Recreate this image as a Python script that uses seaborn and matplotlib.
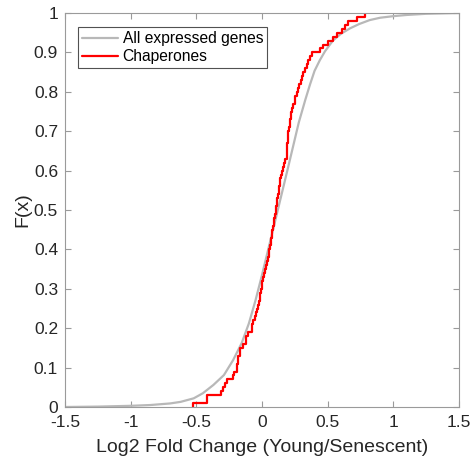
import numpy as np
import pandas as pd
import matplotlib
matplotlib.use("Agg")
import matplotlib.pyplot as plt
import seaborn as sns

all_x = [-1.5, -1.25, -1.0, -0.85, -0.7, -0.62, -0.52, -0.45, -0.37, -0.29, -0.22, -0.155,
         -0.10, -0.05, 0.0, 0.1, 0.2, 0.28, 0.33, 0.365, 0.40, 0.44, 0.48, 0.54, 0.6,
         0.67, 0.74, 0.82, 0.9, 1.0, 1.1, 1.25, 1.5]
all_F = [0.0, 0.001, 0.003, 0.005, 0.009, 0.013, 0.022, 0.035, 0.056, 0.081, 0.119, 0.162,
         0.212, 0.27, 0.335, 0.472, 0.61, 0.722, 0.78, 0.818, 0.853, 0.88, 0.903, 0.93, 0.947,
         0.961, 0.972, 0.982, 0.988, 0.992, 0.995, 0.998, 1.0]

# Chaperones: log2 fold changes read from the steps of the red ECDF
chaperones = [-0.528, -0.416, -0.416, -0.312, -0.30, -0.28, -0.27, -0.223, -0.213, -0.193,
              -0.193, -0.18, -0.18, -0.167, -0.167, -0.147, -0.122, -0.122, -0.104, -0.079,
              -0.079, -0.065, -0.053, -0.045, -0.04, -0.03, -0.022, -0.015, -0.015, -0.008,
              -0.003, -0.003, 0.005, 0.012, 0.02, 0.028, 0.036, 0.044, 0.05, 0.056,
              0.061, 0.066, 0.07, 0.074, 0.079, 0.084, 0.089, 0.094, 0.098, 0.103,
              0.108, 0.112, 0.117, 0.121, 0.126, 0.13, 0.134, 0.138, 0.142, 0.15,
              0.16, 0.168, 0.178, 0.188, 0.19, 0.192, 0.194, 0.196, 0.198, 0.2,
              0.205, 0.21, 0.213, 0.218, 0.222, 0.226, 0.238, 0.251, 0.251, 0.265,
              0.277, 0.285, 0.295, 0.302, 0.315, 0.328, 0.34, 0.352, 0.365, 0.378,
              0.442, 0.467, 0.505, 0.54, 0.569, 0.607, 0.635, 0.657, 0.721, 0.785]

x_ticks = [-1.5, -1, -0.5, 0, 0.5, 1, 1.5]
x_tick_labels = ["-1.5", "-1", "-0.5", "0", "0.5", "1", "1.5"]
y_ticks = [0, 0.1, 0.2, 0.3, 0.4, 0.5, 0.6, 0.7, 0.8, 0.9, 1]
y_tick_labels = ["0", "0.1", "0.2", "0.3", "0.4", "0.5", "0.6", "0.7", "0.8", "0.9", "1"]

sns.set_style("white")
plt.rcParams["font.family"] = ["Liberation Sans", "DejaVu Sans"]
plt.rcParams["axes.unicode_minus"] = False

text_col = "#262626"
frame_col = "#9a9a9a"

fig = plt.figure(figsize=(4.74, 4.66), dpi=100)
ax = fig.add_axes([65 / 474, 59 / 466, 394 / 474, 394 / 466])

all_df = pd.DataFrame({"x": all_x, "F": all_F})
sns.lineplot(data=all_df, x="x", y="F", ax=ax, color="#b8b8b8", linewidth=1.6,
             label="All expressed genes")
sns.ecdfplot(x=chaperones, ax=ax, color="#ff0000", linewidth=1.6, label="Chaperones")

ax.set_xlim(-1.5, 1.5)
ax.set_ylim(0, 1)
ax.set_xticks(x_ticks)
ax.set_xticklabels(x_tick_labels)
ax.set_yticks(y_ticks)
ax.set_yticklabels(y_tick_labels)
ax.set_xlabel("Log2 Fold Change (Young/Senescent)", fontsize=14, color=text_col, labelpad=6)
ax.set_ylabel("F(x)", fontsize=14, color=text_col, labelpad=2)

ax.tick_params(direction="in", length=4.5, width=0.8, color=frame_col, labelcolor=text_col,
               labelsize=12.5, top=True, right=True, bottom=True, left=True)
ax.tick_params(axis="x", pad=6)
ax.tick_params(axis="y", pad=5)
for s in ax.spines.values():
    s.set_color(frame_col)
    s.set_linewidth(0.8)

leg = ax.legend(loc="upper left", bbox_to_anchor=(0.033, 0.964), fontsize=11.25,
                frameon=True, fancybox=False, handlelength=2.3, handletextpad=0.3,
                borderpad=0.25, labelspacing=0.2, borderaxespad=0)
leg.get_frame().set_edgecolor("#262626")
leg.get_frame().set_linewidth(0.8)
for t in leg.get_texts():
    t.set_color("#000000")

fig.savefig("out.png", dpi=100)
